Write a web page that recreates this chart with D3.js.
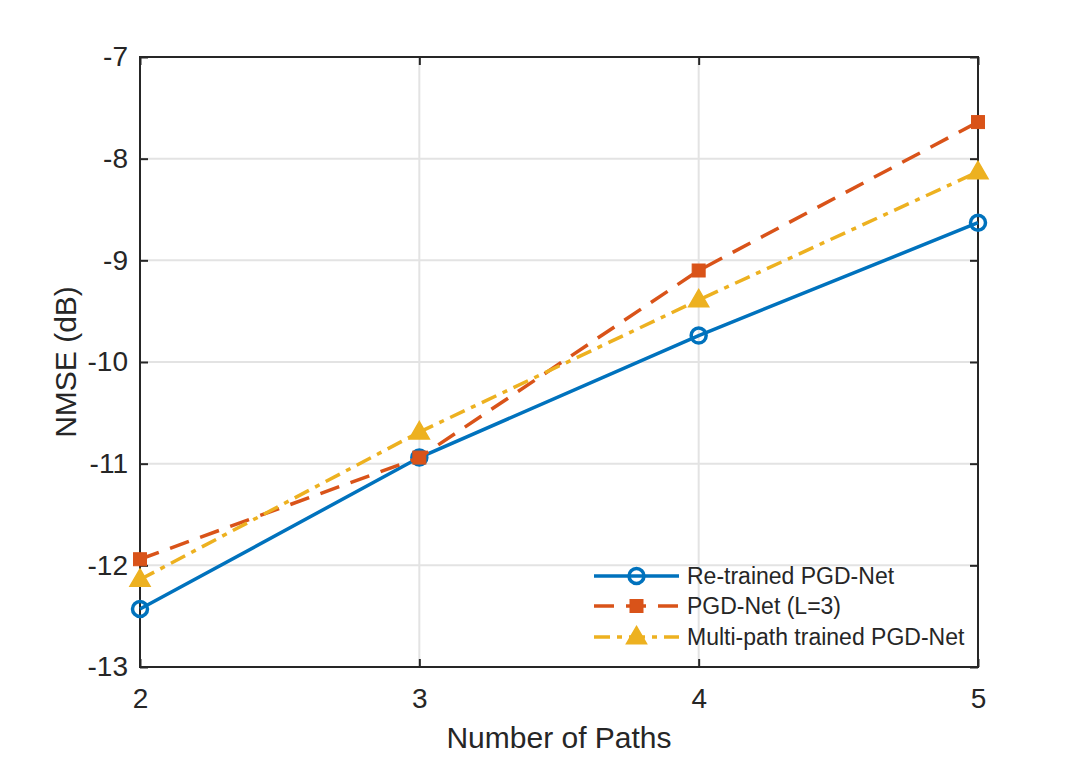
<!DOCTYPE html>
<html><head><meta charset="utf-8">
<script src="https://cdn.jsdelivr.net/npm/d3@7"></script>
<style>body{margin:0;background:#fff}svg text{font-family:"Liberation Sans",Arial,sans-serif;fill:#262626}</style>
</head><body><svg id="c" width="1080" height="757"></svg>
<script>
const paths = [2, 3, 4, 5];
const retrained = [-12.43, -10.94, -9.74, -8.63];
const pgdL3 = [-11.94, -10.94, -9.10, -7.64];
const multipath = [-12.14, -10.69, -9.39, -8.13];
const xTicks = [2, 3, 4, 5];
const yTicks = [-13, -12, -11, -10, -9, -8, -7];
const seriesNames = ["Re-trained PGD-Net", "PGD-Net (L=3)", "Multi-path trained PGD-Net"];

const svg = d3.select("#c");
const L = 140, R = 978, T = 57, B = 667;
const x = d3.scaleLinear().domain([2, 5]).range([L, R]);
const y = d3.scaleLinear().domain([-13, -7]).range([B, T]);

// grid
svg.append("g").selectAll("line").data(xTicks).join("line")
  .attr("x1", d => x(d)).attr("x2", d => x(d)).attr("y1", T).attr("y2", B)
  .attr("stroke", "#e3e3e3").attr("stroke-width", 2);
svg.append("g").selectAll("line").data(yTicks).join("line")
  .attr("y1", d => y(d)).attr("y2", d => y(d)).attr("x1", L).attr("x2", R)
  .attr("stroke", "#e3e3e3").attr("stroke-width", 2);

// axes
const fmt = d => d < 0 ? "-" + Math.abs(d) : String(d);
const ax = (gen, tr) => {
  const g = svg.append("g").attr("transform", tr).call(gen);
  g.select(".domain").remove();
  g.selectAll(".tick line").attr("stroke", "#262626").attr("stroke-width", 2);
  g.selectAll("text").attr("font-size", 28).attr("fill", "#262626").attr("font-family", '"Liberation Sans",Arial,sans-serif');
  return g;
};
ax(d3.axisBottom(x).tickValues(xTicks).tickSize(-8).tickPadding(21).tickFormat(fmt), `translate(0,${B})`);
ax(d3.axisLeft(y).tickValues(yTicks).tickSize(-8).tickPadding(12).tickFormat(fmt), `translate(${L},0)`);
ax(d3.axisTop(x).tickValues(xTicks).tickSize(-8).tickFormat(""), `translate(0,${T})`);
ax(d3.axisRight(y).tickValues(yTicks).tickSize(-8).tickFormat(""), `translate(${R},0)`);
svg.append("rect").attr("x", L).attr("y", T).attr("width", R - L).attr("height", B - T)
  .attr("fill", "none").attr("stroke", "#262626").attr("stroke-width", 2);

// labels
svg.append("text").attr("x", (L + R) / 2).attr("y", 748).attr("text-anchor", "middle")
  .attr("font-size", 30).text("Number of Paths");
svg.append("text").attr("transform", `translate(76,${(T + B) / 2}) rotate(-90)`).attr("text-anchor", "middle")
  .attr("font-size", 30).text("NMSE (dB)");

const colors = ["#0072BD", "#D95319", "#EDB120"];
const dashes = [null, "20,12", "16,7,5,7"];
const data = [retrained, pgdL3, multipath];
const line = d3.line().x((d, i) => x(paths[i])).y(d => y(d));

function marker(g, k, cx, cy) {
  if (k === 0) g.append("circle").attr("cx", cx).attr("cy", cy).attr("r", 7.5)
    .attr("fill", "none").attr("stroke", colors[0]).attr("stroke-width", 3.5);
  else if (k === 1) g.append("rect").attr("x", cx - 6.5).attr("y", cy - 6.5).attr("width", 13).attr("height", 13)
    .attr("fill", colors[1]).attr("stroke", colors[1]).attr("stroke-width", 1);
  else g.append("path").attr("d", d3.symbol(d3.symbolTriangle, 175)()).attr("transform", `translate(${cx},${cy + 1})`)
    .attr("fill", colors[2]).attr("stroke", colors[2]).attr("stroke-width", 1.5);
}

data.forEach((s, k) => {
  const g = svg.append("g");
  g.append("path").attr("d", line(s)).attr("fill", "none").attr("stroke", colors[k])
    .attr("stroke-width", 3.5).attr("stroke-dasharray", dashes[k]);
  s.forEach((v, i) => marker(g, k, x(paths[i]), y(v)));
});

// legend
const ly = [576, 606, 637];
seriesNames.forEach((n, k) => {
  const g = svg.append("g");
  g.append("line").attr("x1", 594).attr("x2", 679).attr("y1", ly[k]).attr("y2", ly[k])
    .attr("stroke", colors[k]).attr("stroke-width", 3.5).attr("stroke-dasharray", dashes[k]);
  marker(g, k, 636.5, ly[k]);
  g.append("text").attr("x", 687).attr("y", ly[k] + 8).attr("font-size", 23).text(n);
});
</script></body></html>
